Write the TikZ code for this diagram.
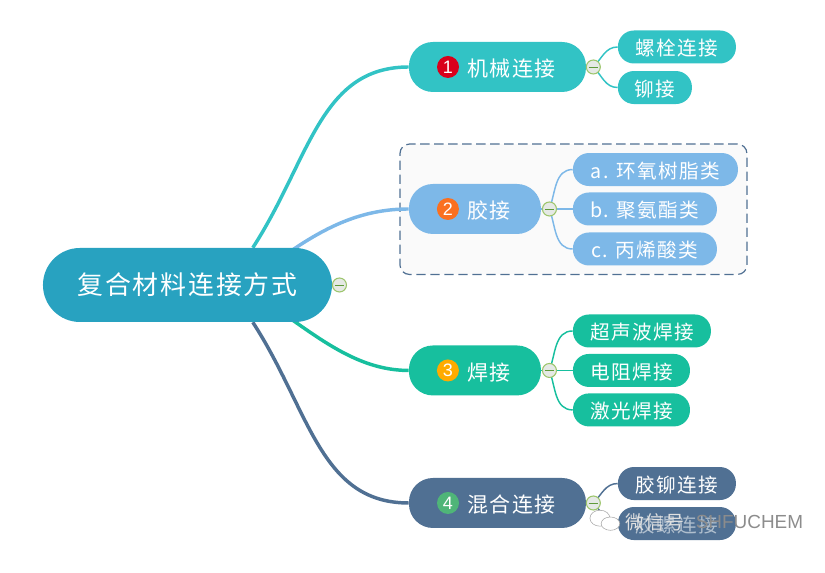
\documentclass[tikz,border=0pt]{standalone}
\usepackage{fontspec}
\setmainfont{Noto Sans CJK SC}[LetterSpace=7]
\newfontfamily\digitfont{Liberation Sans}
\usetikzlibrary{shapes.geometric, fit, backgrounds}
\definecolor{rootcol}{HTML}{28A2C0}
\definecolor{mechcol}{HTML}{32C3C5}
\definecolor{gluecol}{HTML}{7DB8E8}
\definecolor{weldcol}{HTML}{17BF9E}
\definecolor{mixcol}{HTML}{507093}
\definecolor{redcol}{HTML}{D9001B}
\definecolor{orangecol}{HTML}{FA7020}
\definecolor{ambercol}{HTML}{FFAB00}
\definecolor{greencol}{HTML}{4FB578}
\definecolor{togglerim}{HTML}{9CC56B}
\definecolor{togglebar}{HTML}{5F9A3A}
\definecolor{togglefill}{HTML}{E5E9E5}
\tikzstyle{rootbox} = [
    rectangle,
    rounded corners=27.7pt,
    minimum width=216.75pt,
    minimum height=55.5pt,
    fill=rootcol,
    text=white,
    font=\fontsize{19.4pt}{22pt}\selectfont
]
\tikzstyle{branchbox} = [
    rectangle,
    rounded corners=18pt,
    minimum height=37.5pt,
    inner sep=0pt,
    text height=16.5pt,
    text depth=1.6pt,
    text=white,
    font=\fontsize{15.75pt}{18pt}\selectfont
]
\tikzstyle{leafbox} = [
    rectangle,
    rounded corners=12pt,
    minimum height=24.75pt,
    inner sep=0pt,
    text height=14.5pt,
    text depth=1.5pt,
    text=white,
    font=\fontsize{14.7pt}{17pt}\selectfont
]
\tikzstyle{badge} = [
    circle,
    minimum size=16.5pt,
    inner sep=0pt,
    text=white,
    font=\digitfont\fontsize{13.5pt}{15pt}\selectfont
]
\tikzstyle{togglebox} = [
    circle,
    minimum size=10.5pt,
    inner sep=0pt,
    draw=togglerim,
    line width=0.8pt,
    fill=togglefill,
    path picture={\draw [togglebar, line width=0.7pt] ([xshift=-3.5pt]path picture bounding box.center) -- ([xshift=3.5pt]path picture bounding box.center);}
]
\tikzstyle{rootlink} = [line width=2.6pt]
\tikzstyle{leaflink} = [line width=1.1pt]
\tikzstyle{groupframe} = [
    rectangle,
    rounded corners=7pt,
    draw=mixcol,
    line width=0.9pt,
    dash pattern=on 7pt off 3.5pt,
    fill=black!2,
    inner sep=6.5pt
]
\tikzstyle{markfont} = [inner sep=0pt, text=black!45, font=\fontsize{14.2pt}{17pt}\selectfont]
\tikzstyle{markbubble} = [ellipse, draw=black!35, fill=white, inner sep=0pt]
\begin{document}
\begin{tikzpicture}[node distance=30pt]
\useasboundingbox (0,0) rectangle (618.75pt,429.75pt);

\node (root) [rootbox] at (140.6pt,216pt) {复合材料连接方式};

\node (mech) [branchbox, fill=mechcol, minimum width=132.75pt, right of=root, xshift=202.5pt, yshift=163.5pt]
{\hspace{21pt}机械连接};
\node (glue) [branchbox, fill=gluecol, minimum width=99pt, right of=root, xshift=185.6pt, yshift=57pt]
{\hspace{21pt}胶接};
\node (weld) [branchbox, fill=weldcol, minimum width=99pt, right of=root, xshift=185.6pt, yshift=-64.1pt]
{\hspace{21pt}焊接};
\node (mix) [branchbox, fill=mixcol, minimum width=132.75pt, right of=root, xshift=202.5pt, yshift=-163.5pt]
{\hspace{21pt}混合连接};

\node (badge1) [badge, fill=redcol, left of=mech, xshift=-7.1pt] {1};
\node (badge2) [badge, fill=orangecol, left of=glue, xshift=9.75pt] {2};
\node (badge3) [badge, fill=ambercol, left of=weld, xshift=9.75pt] {3};
\node (badge4) [badge, fill=greencol, left of=mix, xshift=-7.1pt] {4};

\node (bolt) [leafbox, fill=mechcol, minimum width=88.5pt, right of=mech, xshift=104.6pt, yshift=15pt] {螺栓连接};
\node (rivet) [leafbox, fill=mechcol, minimum width=55.5pt, right of=mech, xshift=88.1pt, yshift=-15.4pt] {铆接};

\node (epoxy) [leafbox, fill=gluecol, minimum width=123.75pt, right of=glue, xshift=105.4pt, yshift=29.6pt] {a. 环氧树脂类};
\node (pu) [leafbox, fill=gluecol, minimum width=108pt, right of=glue, xshift=97.5pt] {b. 聚氨酯类};
\node (acrylic) [leafbox, fill=gluecol, minimum width=108pt, right of=glue, xshift=97.5pt, yshift=-30pt] {c. 丙烯酸类};

\node (sonic) [leafbox, fill=weldcol, minimum width=103.5pt, right of=weld, xshift=95.25pt, yshift=29.6pt] {超声波焊接};
\node (resist) [leafbox, fill=weldcol, minimum width=87.75pt, right of=weld, xshift=87.4pt] {电阻焊接};
\node (laser) [leafbox, fill=weldcol, minimum width=87.75pt, right of=weld, xshift=87.4pt, yshift=-29.6pt] {激光焊接};

\node (gluerivet) [leafbox, fill=mixcol, minimum width=88.5pt, right of=mix, xshift=104.6pt, yshift=14.6pt] {胶铆连接};
\node (gluebolt) [leafbox, fill=mixcol, text=white!55!mixcol, minimum width=88.5pt, right of=mix, xshift=104.6pt, yshift=-15.4pt] {胶螺连接};

\node (toggle0) [togglebox, right of=root, xshift=84pt] {};
\node (toggle1) [togglebox, right of=mech, xshift=41.9pt] {};
\node (toggle2) [togglebox, right of=glue, xshift=25.9pt] {};
\node (toggle3) [togglebox, right of=weld, xshift=25.9pt] {};
\node (toggle4) [togglebox, right of=mix, xshift=41.9pt] {};

% watermark
\node (markcn) [markfont, text=black!12, right of=gluebolt, xshift=-46.5pt, yshift=1pt] {微信号};
\node (marken) [markfont, right of=markcn, xshift=40.9pt, font=\digitfont\fontsize{14.2pt}{17pt}\selectfont] {SHFUCHEM};
\node (bubble1) [markbubble, minimum width=15pt, minimum height=12pt, left of=markcn, xshift=-11.25pt, yshift=3pt] {};
\node (bubble2) [markbubble, minimum width=14pt, minimum height=10pt, right of=bubble1, xshift=-22.1pt, yshift=-4.1pt] {};

\begin{pgfonlayer}{background}
\node (gluegroup) [groupframe, fit=(glue)(epoxy)(acrylic)] {};

\draw [rootlink, mechcol] ([xshift=49pt]root.north) .. controls +(42.75pt,66pt) and +(-66.75pt,0pt) .. (mech.west);
\draw [rootlink, gluecol] ([xshift=79pt,yshift=-1.5pt]root.north) .. controls +(27.75pt,18.75pt) and +(-33pt,0pt) .. (glue.west);
\draw [rootlink, weldcol] ([xshift=79pt,yshift=1.5pt]root.south) .. controls +(27.75pt,-19.5pt) and +(-33pt,0pt) .. (weld.west);
\draw [rootlink, mixcol] ([xshift=49pt]root.south) .. controls +(42.75pt,-66pt) and +(-66.75pt,0pt) .. (mix.west);

\draw [leaflink, mechcol] (mech.east) -- (toggle1);
\draw [leaflink, mechcol] (toggle1.center) to [out=45, in=180] (bolt.west);
\draw [leaflink, mechcol] (toggle1.center) to [out=-45, in=180] (rivet.west);

\draw [leaflink, gluecol] (glue.east) -- (toggle2);
\draw [leaflink, gluecol] (toggle2.center) to [out=70, in=180] (epoxy.west);
\draw [leaflink, gluecol] (toggle2.center) -- (pu.west);
\draw [leaflink, gluecol] (toggle2.center) to [out=-70, in=180] (acrylic.west);

\draw [leaflink, weldcol] (weld.east) -- (toggle3);
\draw [leaflink, weldcol] (toggle3.center) to [out=70, in=180] (sonic.west);
\draw [leaflink, weldcol] (toggle3.center) -- (resist.west);
\draw [leaflink, weldcol] (toggle3.center) to [out=-70, in=180] (laser.west);

\draw [leaflink, mixcol] (mix.east) -- (toggle4);
\draw [leaflink, mixcol] (toggle4.center) to [out=45, in=180] (gluerivet.west);
\draw [leaflink, mixcol] (toggle4.center) to [out=-45, in=180] (gluebolt.west);
\end{pgfonlayer}

\end{tikzpicture}
\end{document}
